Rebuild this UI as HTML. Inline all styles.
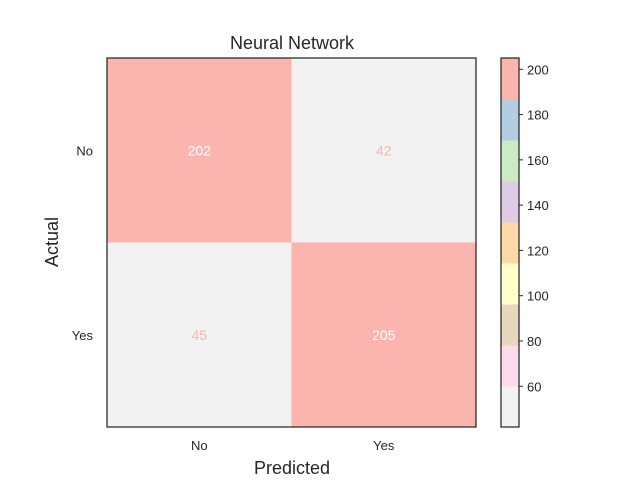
<!DOCTYPE html>
<html><head><meta charset="utf-8"><style>
body{margin:0;background:#fff;}
text{font-family:"Liberation Sans",sans-serif;fill:#262626;}
</style></head><body>
<svg id="chart" width="640" height="480" xmlns="http://www.w3.org/2000/svg">
<text x="292" y="49" text-anchor="middle" font-size="18">Neural Network</text>
<text x="292" y="474" text-anchor="middle" font-size="18">Predicted</text>
<text transform="translate(58,242) rotate(-90)" text-anchor="middle" font-size="18">Actual</text>
<g id="cells"></g>
<g id="cbar"></g>
</svg>
<script>
const labels = ["No","Yes"];
const values = [[202,42],[45,205]];
const cbarTicks = [60,80,100,120,140,160,180,200];
const palette = ["#f2f2f2","#fddaec","#e5d8bd","#ffffcc","#fed9a6","#decbe4","#ccebc5","#b3cde3","#fbb4ae"];
const NS="http://www.w3.org/2000/svg";
const svg=document.getElementById('chart');
const X0=107,Y0=58,W=369,H=369;
const flat=values.flat();
const vmin=Math.min(...flat), vmax=Math.max(...flat);
function colorFor(v){let i=Math.floor((v-vmin)/(vmax-vmin)*palette.length);if(i>=palette.length)i=palette.length-1;return palette[i];}
function mk(t,a,p){const e=document.createElementNS(NS,t);for(const k in a)e.setAttribute(k,a[k]);(p||svg).appendChild(e);return e;}
const n=labels.length, cw=W/n, ch=H/n;
const cells=document.getElementById('cells');
for(let r=0;r<n;r++)for(let c=0;c<n;c++){
  const v=values[r][c];
  const rect=mk('rect',{x:X0+c*cw,y:Y0+r*ch,width:cw,height:ch,fill:colorFor(v)},cells);
  
  
  const t=mk('text',{x:X0+c*cw+cw/2,y:Y0+r*ch+ch/2+5,'text-anchor':'middle','font-size':'14',style:'fill:'+(v>(vmin+vmax)/2?'#ffffff':'#fbb4ae')},cells);
  t.textContent=v;
  
  
}
const fr=mk('rect',{x:X0,y:Y0,width:W,height:H,fill:'none',stroke:'#262626','stroke-width':1.25});


labels.forEach((l,i)=>{
  const tx=mk('text',{x:X0+i*cw+cw/2,y:Y0+H+23,'text-anchor':'middle','font-size':'13'});
  tx.textContent=l;
  
  
  const ty=mk('text',{x:X0-14,y:Y0+i*ch+ch/2+5,'text-anchor':'end','font-size':'13'});
  ty.textContent=l;
  
  
});
// colorbar
const CX=501,CW=18,CY=58,CH=369;
const cb=document.getElementById('cbar');
const seg=CH/palette.length;
palette.forEach((col,i)=>{
  const r=mk('rect',{x:CX,y:CY+CH-(i+1)*seg,width:CW,height:seg+0.5,fill:col},cb);
  
  
});
const cf=mk('rect',{x:CX,y:CY,width:CW,height:CH,fill:'none',stroke:'#262626','stroke-width':1.25},cb);


function cy(v){return CY+CH-(v-vmin)/(vmax-vmin)*CH;}
cbarTicks.forEach(v=>{
  const y=cy(v);
  const l=mk('line',{x1:CX+CW,x2:CX+CW+4,y1:y,y2:y,stroke:'#262626'},cb);
  
  
  const t=mk('text',{x:CX+CW+8,y:y+5,'font-size':'13'},cb);
  t.textContent=v;
  
  
});
</script>
</body></html>
